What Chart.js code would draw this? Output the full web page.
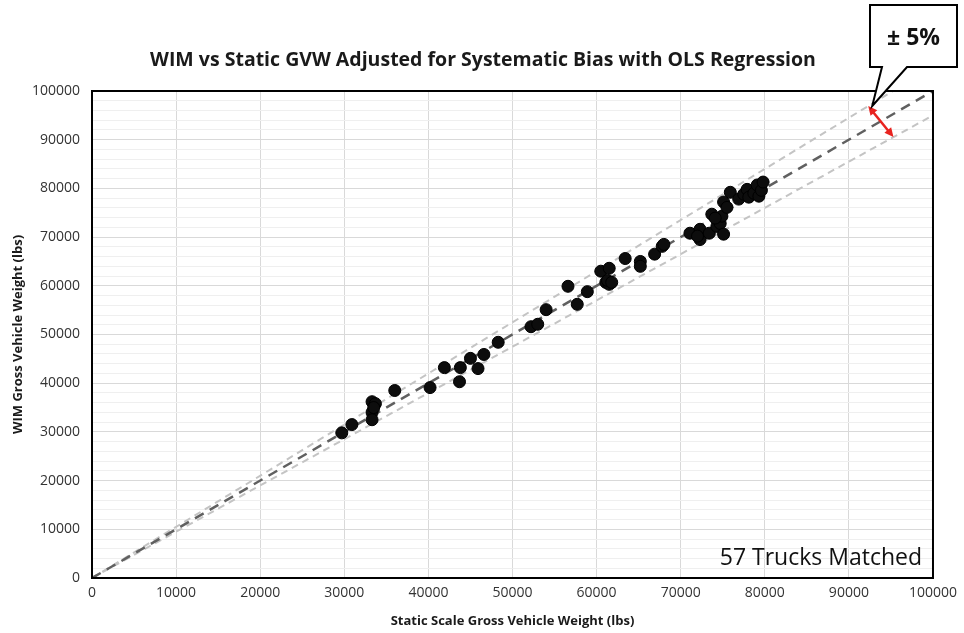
<!DOCTYPE html>
<html>
<head>
<meta charset="utf-8">
<script src="https://cdn.jsdelivr.net/npm/chart.js@4"></script>
<style>
  html, body { margin: 0; padding: 0; background: #fff; }
  canvas { display: block; }
</style>
</head>
<body>
<canvas id="gvwChart" width="964" height="633"></canvas>
<script>
// --- data (lbs) ---
const staticGvw = [
  29700, 30900, 33300, 33700, 33300, 33300, 33500, 36000, 40200, 41900,
  43800, 43700, 45000, 45900, 46600, 48300, 52200, 53000, 54000, 56600,
  57700, 58900, 60500, 61500, 61100, 61500, 61300, 61800, 63400, 65200,
  65200, 66900, 67800, 68000, 71100, 72300, 72300, 72000, 73400, 73700,
  74300, 74700, 74900, 75100, 75100, 75500, 75900, 76900, 77500, 77900,
  78100, 78700, 79300, 79100, 79600, 79800, 74100
];
const wimGvw = [
  29800, 31500, 36200, 35800, 34000, 32500, 35000, 38500, 39100, 43200,
  43200, 40300, 45100, 43000, 45900, 48400, 51600, 52100, 55100, 59900,
  56200, 58800, 63000, 63600, 60700, 60300, 61100, 60700, 65600, 65000,
  64000, 66500, 68100, 68500, 70800, 71600, 69500, 70200, 70800, 74700,
  72200, 72800, 74300, 70600, 77200, 76100, 79200, 77800, 78800, 79800,
  78200, 79000, 78400, 80700, 79600, 81300, 73900
];
const fitX = [0, 100000];        // OLS line after bias adjustment (y = x)
const bandPct = 0.05;            // +/- 5% envelope
const axisTicks = [0, 10000, 20000, 30000, 40000, 50000, 60000, 70000, 80000, 90000, 100000];
const arrowX = [92300, 95300];   // where the red +/- arrow touches the band lines

const points = staticGvw.map((x, i) => ({ x: x, y: wimGvw[i] }));
const fitLine = fitX.map(x => ({ x: x, y: x }));
const upperLine = fitX.map(x => ({ x: x, y: x * (1 + bandPct) }));
const lowerLine = fitX.map(x => ({ x: x, y: x * (1 - bandPct) }));

const FONT = '"Open Sans", "DejaVu Sans", sans-serif';

// --- extras: title, border, callout, note ---
const extrasPlugin = {
  id: 'extras',
  afterDraw(chart) {
    const c = chart.ctx;
    const a = chart.chartArea;
    const xs = chart.scales.x, ys = chart.scales.y;
    c.save();

    // title
    c.fillStyle = '#1a1a1a';
    c.font = 'bold 19.5px ' + FONT;
    c.textAlign = 'center';
    c.textBaseline = 'middle';
    c.fillText('WIM vs Static GVW Adjusted for Systematic Bias with OLS Regression', 483, 60);

    // plot border
    c.strokeStyle = '#000';
    c.lineWidth = 2;
    c.strokeRect(a.left, a.top, a.right - a.left, a.bottom - a.top);

    // note
    c.font = '23px ' + FONT;
    c.textAlign = 'right';
    c.textBaseline = 'alphabetic';
    c.fillStyle = '#111';
    c.fillText('57 Trucks Matched', a.right - 11, a.bottom - 13);

    // red double arrow between the band lines
    const p1 = { x: xs.getPixelForValue(arrowX[0]), y: ys.getPixelForValue(arrowX[0] * (1 + bandPct)) };
    const p2 = { x: xs.getPixelForValue(arrowX[1]), y: ys.getPixelForValue(arrowX[1] * (1 - bandPct)) };
    const ang = Math.atan2(p2.y - p1.y, p2.x - p1.x);
    c.strokeStyle = '#e8231f';
    c.fillStyle = '#e8231f';
    c.lineWidth = 2.5;
    c.beginPath();
    c.moveTo(p1.x + 6 * Math.cos(ang), p1.y + 6 * Math.sin(ang));
    c.lineTo(p2.x - 6 * Math.cos(ang), p2.y - 6 * Math.sin(ang));
    c.stroke();
    [[p1, ang + Math.PI], [p2, ang]].forEach(([p, t]) => {
      c.beginPath();
      c.moveTo(p.x, p.y);
      c.lineTo(p.x - 10 * Math.cos(t - 0.45), p.y - 10 * Math.sin(t - 0.45));
      c.lineTo(p.x - 10 * Math.cos(t + 0.45), p.y - 10 * Math.sin(t + 0.45));
      c.closePath();
      c.fill();
    });

    // callout box
    const bx = 870, by = 5, bw = 87, bh = 62;
    c.fillStyle = '#fff';
    c.strokeStyle = '#000';
    c.lineWidth = 2;
    c.beginPath();
    c.moveTo(bx, by);
    c.lineTo(bx + bw, by);
    c.lineTo(bx + bw, by + bh);
    c.lineTo(907, by + bh);
    c.lineTo(p1.x + 4, p1.y);
    c.lineTo(882, by + bh);
    c.lineTo(bx, by + bh);
    c.closePath();
    c.fill();
    c.stroke();
    c.fillStyle = '#111';
    c.font = 'bold 23px ' + FONT;
    c.textAlign = 'center';
    c.textBaseline = 'middle';
    c.fillText('± 5%', bx + bw / 2, by + 33);

    c.restore();
  }
};

const ctx = document.getElementById('gvwChart').getContext('2d');
const gvwChart = new Chart(ctx, {
  type: 'scatter',
  data: {
    datasets: [
      { type: 'line', data: upperLine, borderColor: '#c4c4c4', borderWidth: 2, borderDash: [7, 5], pointRadius: 0, fill: false, order: 3 },
      { type: 'line', data: lowerLine, borderColor: '#c4c4c4', borderWidth: 2, borderDash: [7, 5], pointRadius: 0, fill: false, order: 3 },
      { type: 'line', data: fitLine, borderColor: '#606060', borderWidth: 2.5, borderDash: [10, 7], pointRadius: 0, fill: false, order: 2 },
      { label: 'Trucks', data: points, backgroundColor: '#0d0d0d', borderColor: '#000', borderWidth: 1, pointRadius: 6, order: 1 }
    ]
  },
  options: {
    responsive: false,
    animation: false,
    layout: { padding: { top: 91, right: 27, left: 10, bottom: 0 } },
    plugins: { legend: { display: false }, tooltip: { enabled: false } },
    scales: {
      x: {
        type: 'linear', min: 0, max: 100000,
        afterBuildTicks: s => { s.ticks = axisTicks.map(v => ({ value: v })); },
        afterFit: s => { s.height = 55; },
        grid: { color: '#d9d9d9', drawTicks: false },
        border: { display: false },
        ticks: { color: '#333', font: { family: FONT, size: 14 }, padding: 7, maxRotation: 0, autoSkip: false, callback: v => String(v) },
        title: { display: true, text: 'Static Scale Gross Vehicle Weight (lbs)', color: '#1a1a1a', font: { family: FONT, size: 13, weight: 'bold' }, padding: { top: 3 } }
      },
      y: {
        type: 'linear', min: 0, max: 100000,
        afterFit: s => { s.width = 82; },
        grid: {
          color: c => (c.tick && c.tick.value % 10000 === 0) ? '#d9d9d9' : '#efefef',
          drawTicks: false
        },
        border: { display: false },
        ticks: {
          stepSize: 2000, autoSkip: false, color: '#333', font: { family: FONT, size: 14 }, padding: 12,
          callback: v => (v % 10000 === 0 ? String(v) : '')
        },
        title: { display: true, text: 'WIM Gross Vehicle Weight (lbs)', color: '#1a1a1a', font: { family: FONT, size: 13, weight: 'bold' }, padding: 0 }
      }
    }
  },
  plugins: [extrasPlugin]
});
</script>
</body>
</html>
